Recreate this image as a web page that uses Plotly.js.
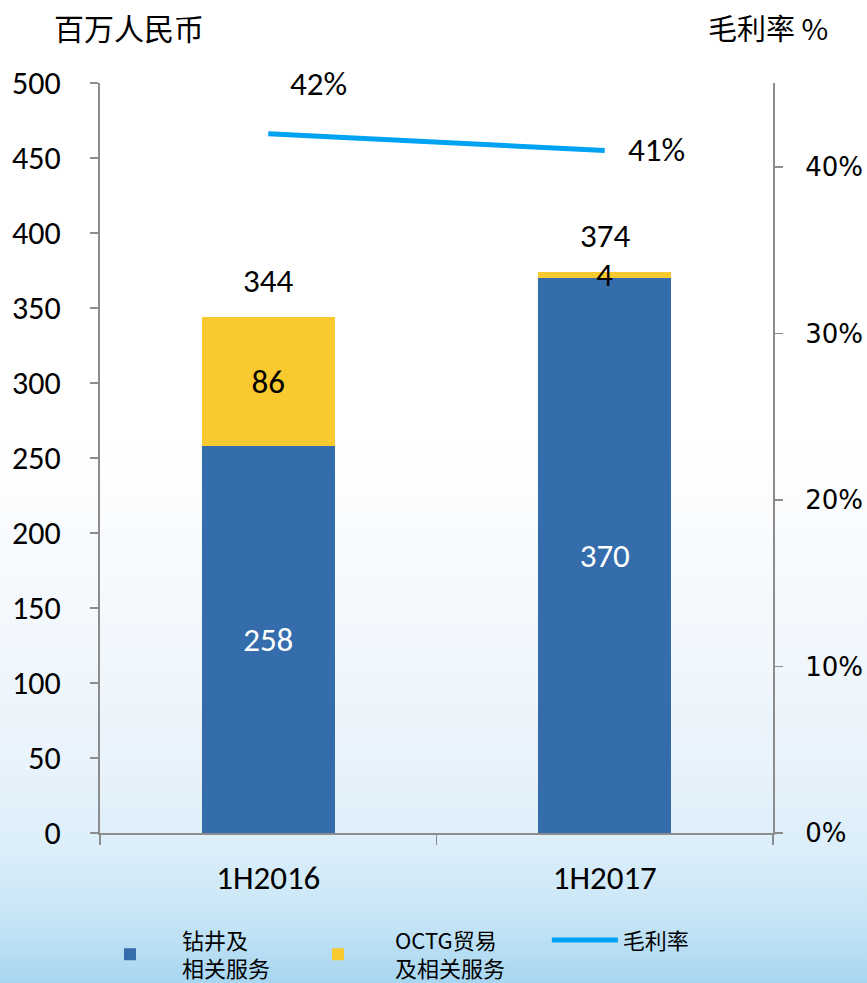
<!DOCTYPE html>
<html>
<head>
<meta charset="utf-8">
<script src="https://cdn.plot.ly/plotly-3.0.1.min.js"></script>
<style>
  html, body { margin: 0; padding: 0; }
  body {
    width: 867px; height: 983px; overflow: hidden;
    background: linear-gradient(to bottom, #ffffff 0px, #ffffff 440px, #f3f8fd 620px, #e9f3fb 760px, #dbeef9 850px, #c6e5f6 920px, #a7d6f1 983px);
  }
  #chart { width: 867px; height: 983px; }
</style>
</head>
<body>
<div id="chart"></div>
<script>
const categories = ["1H2016", "1H2017"];
const drilling = [258, 370];
const octg = [86, 4];
const margin = [0.42, 0.41];
const marginLabels = ["42%", "41%"];
const seriesNames = ["钻井及<br>相关服务", "OCTG贸易<br>及相关服务", "毛利率"];
const leftAxisTitle = "百万人民币";
const rightAxisTitle = "毛利率 %";

const latin = "Carlito, Lato, 'Liberation Sans', sans-serif";
const cjk = "'Noto Sans CJK SC', sans-serif";
const totals = drilling.map((v, i) => v + octg[i]);

const traces = [
  {
    type: "bar", x: categories, y: drilling, name: seriesNames[0], legend: "legend",
    marker: { color: "#356DAC" }, width: 0.395,
    text: drilling.map(String), textposition: "inside", insidetextanchor: "middle", textangle: 0,
    textfont: { family: latin, size: 33, color: "#ffffff" }, constraintext: "none",
    hoverinfo: "skip"
  },
  {
    type: "bar", x: categories, y: octg, name: seriesNames[1], legend: "legend2",
    marker: { color: "#F9CA2F" }, width: 0.395,
    text: octg.map(String), textposition: "inside", insidetextanchor: "middle", textangle: 0,
    textfont: { family: latin, size: 33, color: "#000000" }, constraintext: "none",
    hoverinfo: "skip"
  },
  {
    type: "scatter", mode: "lines", x: categories, y: margin, yaxis: "y2", name: seriesNames[2], legend: "legend3",
    line: { color: "#00A2F2", width: 5 }, hoverinfo: "skip"
  }
];

const annotations = [];
categories.forEach((c, i) => {
  annotations.push({
    x: c, y: totals[i], xref: "x", yref: "y", text: String(totals[i]),
    showarrow: false, yshift: 36, font: { family: latin, size: 33, color: "#000" }
  });
});
const pctShift = [[50, 50], [52, 0]];
categories.forEach((c, i) => {
  annotations.push({
    x: c, y: margin[i], xref: "x", yref: "y2", text: marginLabels[i],
    showarrow: false, xshift: pctShift[i][0], yshift: pctShift[i][1],
    font: { family: latin, size: 33, color: "#000" }
  });
});
annotations.push({
  xref: "paper", yref: "paper", x: -0.072, y: 1.075, xanchor: "left", yanchor: "middle",
  text: leftAxisTitle, showarrow: false, font: { family: cjk, size: 30, color: "#000" }
});
annotations.push({
  xref: "paper", yref: "paper", x: 1.085, y: 1.075, xanchor: "right", yanchor: "middle",
  text: rightAxisTitle, showarrow: false, font: { family: cjk, size: 29, color: "#000" }
});

const legendBase = {
  orientation: "h", xanchor: "left", y: -0.115, yanchor: "top",
  font: { family: cjk, size: 22, color: "#000" },
  bgcolor: "rgba(0,0,0,0)", valign: "middle"
};

const layout = {
  width: 867, height: 983,
  paper_bgcolor: "rgba(0,0,0,0)", plot_bgcolor: "rgba(0,0,0,0)",
  margin: { l: 100, r: 94, t: 83, b: 150, autoexpand: false },
  barmode: "stack",
  showlegend: true,
  legend: Object.assign({}, legendBase, { x: -0.0327, itemwidth: 94 }),
  legend2: Object.assign({}, legendBase, { x: 0.269, itemwidth: 104 }),
  legend3: Object.assign({}, legendBase, { x: 0.664, itemwidth: 66 }),
  xaxis: {
    type: "category", showgrid: false, zeroline: false,
    showline: true, linecolor: "#8c8c8c", linewidth: 2,
    ticks: "outside", tickson: "boundaries", ticklen: 10, tickcolor: "#8c8c8c", tickwidth: 1.5,
    tickfont: { family: latin, size: 33, color: "#000" },
    ticklabelstandoff: 14
  },
  yaxis: {
    range: [0, 500], dtick: 50, showgrid: false, zeroline: false,
    showline: true, linecolor: "#8c8c8c", linewidth: 2,
    ticks: "outside", ticklen: 8, tickcolor: "#8c8c8c", tickwidth: 1.5,
    tickfont: { family: latin, size: 32, color: "#000" },
    ticklabelstandoff: 23
  },
  yaxis2: {
    overlaying: "y", side: "right", range: [0, 0.4505], dtick: 0.1, tickformat: ".0%",
    showgrid: false, zeroline: false,
    showline: true, linecolor: "#8c8c8c", linewidth: 2,
    ticks: "outside", ticklen: 8, tickcolor: "#8c8c8c", tickwidth: 1.5,
    tickfont: { family: "'DejaVu Sans', sans-serif", size: 26, color: "#000" },
    ticklabelstandoff: 17
  },
  annotations: annotations
};

Plotly.newPlot("chart", traces, layout, { staticPlot: true, displayModeBar: false });
</script>
</body>
</html>
